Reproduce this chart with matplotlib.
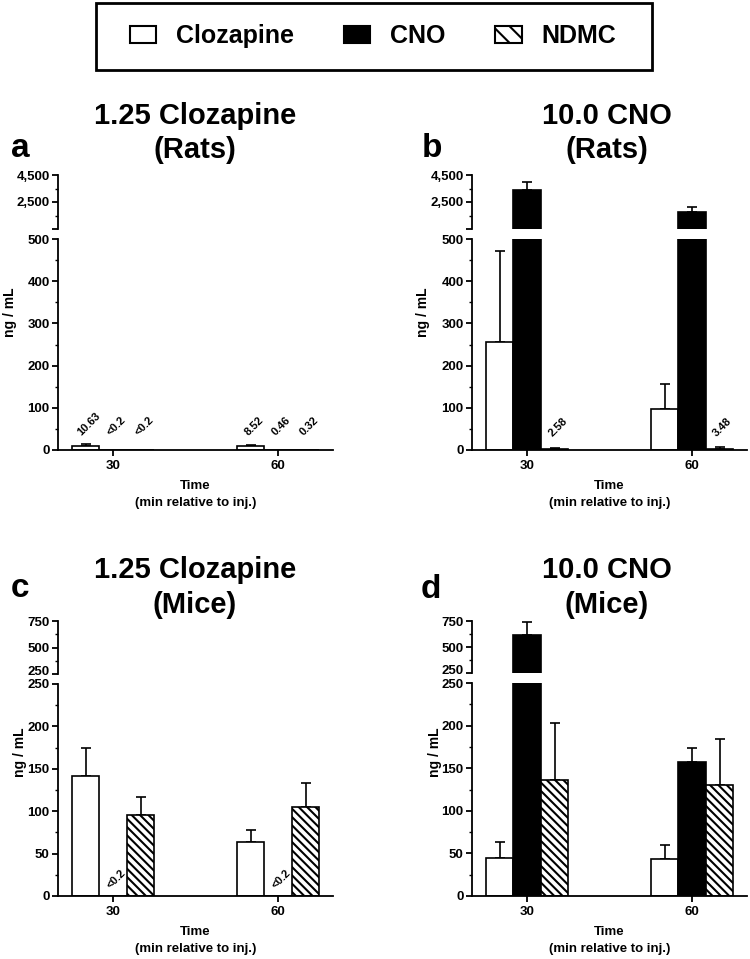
"""Plasma levels of clozapine, CNO and NDMC after injection (rats / mice)"""
import matplotlib
matplotlib.use('Agg')
import matplotlib.pyplot as plt
import matplotlib.transforms as mtransforms
import numpy as np
from matplotlib.patches import Patch, Rectangle
from matplotlib.ticker import MultipleLocator, FixedLocator

plt.rcParams['font.family'] = ['Liberation Sans', 'DejaVu Sans']
plt.rcParams['font.weight'] = 'bold'
plt.rcParams['axes.labelweight'] = 'bold'
plt.rcParams['axes.linewidth'] = 1.3
plt.rcParams['hatch.linewidth'] = 1.5

times = ['30', '60']
drugs = ['Clozapine', 'CNO', 'NDMC']

# a: 1.25 Clozapine (Rats)
a_clz, a_clz_err = [10.63, 8.52], [3.0, 3.0]
a_cno, a_cno_err = [0.0, 0.46], [0.0, 0.0]
a_ndmc, a_ndmc_err = [0.0, 0.32], [0.0, 0.0]
a_notes = [['10.63', '<0.2', '<0.2'], ['8.52', '0.46', '0.32']]

# b: 10.0 CNO (Rats)
b_clz, b_clz_err = [255, 96], [217, 60]
b_cno, b_cno_err = [3390, 1780], [615, 370]
b_ndmc, b_ndmc_err = [2.58, 3.48], [3.0, 3.0]
b_notes = [['', '', '2.58'], ['', '', '3.48']]

# c: 1.25 Clozapine (Mice)
c_clz, c_clz_err = [142, 64], [33, 14]
c_cno, c_cno_err = [0.0, 0.0], [0.0, 0.0]
c_ndmc, c_ndmc_err = [96, 105], [21, 28]
c_notes = [['', '<0.2', ''], ['', '<0.2', '']]

# d: 10.0 CNO (Mice)
d_clz, d_clz_err = [45, 43.5], [18, 16.5]
d_cno, d_cno_err = [620, 157], [124, 17]
d_ndmc, d_ndmc_err = [136, 130], [67, 54]
d_notes = [['', '', ''], ['', '', '']]

# Bar styles
styles = [
    {'facecolor': 'white', 'edgecolor': 'black'},
    {'facecolor': 'black', 'edgecolor': 'black'},
    {'facecolor': 'white', 'edgecolor': 'black', 'hatch': '\\\\\\\\'},
]

W, H = 750, 959


def fx(px):
    return px / W


def fy(py):
    return 1 - py / H


def nudge(label, dy_pt):
    """Shift a tick label up/down by a few points"""
    off = mtransforms.ScaledTranslation(0, dy_pt / 72, fig.dpi_scale_trans)
    label.set_transform(label.get_transform() + off)


def draw_panel(fig, left, top_px, brk_px, low_top_px, bottom_px, means, errs, notes,
               lo_max, lo_step, hi_lim, hi_ticks, hi_labels, note_y):
    ax_hi = fig.add_axes([fx(left), fy(brk_px), fx(275), (brk_px - top_px) / H])
    ax_lo = fig.add_axes([fx(left), fy(bottom_px), fx(275), (bottom_px - low_top_px) / H])

    x = np.arange(len(times))
    w = 1 / 6
    for j in range(len(drugs)):
        pos = x + (j - 1) * w
        m = np.array(means[j], dtype=float)
        e = np.array(errs[j], dtype=float)
        for ax, inside in ((ax_hi, m + e > lo_max), (ax_lo, m < lo_max)):
            ax.bar(pos, m, w, linewidth=1.2, zorder=2, **styles[j])
            keep = (e > 0) & inside
            if keep.any():
                ax.errorbar(pos[keep], m[keep], yerr=[np.zeros(keep.sum()), e[keep]],
                            fmt='none', ecolor='black', elinewidth=1.2,
                            capsize=3.5, capthick=1.2, zorder=1)
        for i in range(len(times)):
            if notes[i][j]:
                ax_lo.text(pos[i] + 0.02, note_y, notes[i][j], rotation=45,
                           ha='center', va='bottom', fontsize=8)

    for ax in (ax_hi, ax_lo):
        ax.set_xlim(-1 / 3, 4 / 3)
        ax.spines['top'].set_visible(False)
        ax.spines['right'].set_visible(False)
        ax.tick_params(axis='y', which='major', length=4, width=1.3, labelsize=9.5, pad=2)
        ax.tick_params(axis='y', which='minor', length=2.5, width=1.0)

    ax_hi.spines['bottom'].set_visible(False)
    ax_hi.set_xticks([])
    ax_hi.set_ylim(*hi_lim)
    ax_hi.yaxis.set_major_locator(FixedLocator(hi_ticks))
    ax_hi.set_yticklabels(hi_labels)
    ax_hi.yaxis.set_minor_locator(FixedLocator(
        [(a + b) / 2 for a, b in zip(hi_ticks[:-1], hi_ticks[1:])]))

    ax_lo.set_ylim(0, lo_max)
    ax_lo.yaxis.set_major_locator(MultipleLocator(lo_step))
    ax_lo.yaxis.set_minor_locator(MultipleLocator(lo_step / 2))
    ax_lo.set_xticks(x)
    ax_lo.set_xticklabels(times)
    ax_lo.tick_params(axis='x', length=4, width=1.3, labelsize=9.5, pad=3)
    ax_lo.set_xlabel('Time\n(min relative to inj.)', fontsize=9.5, labelpad=6,
                     linespacing=1.55)

    # the two labels at the axis break sit almost on top of each other
    if hi_labels[0]:
        nudge(ax_hi.get_yticklabels()[0], 2.5)
        ticks = ax_lo.get_yticklabels()
        nudge(ticks[-1], -1.5)
    return ax_hi, ax_lo


fig = plt.figure(figsize=(7.5, 9.59), dpi=100)

draw_panel(fig, 58, 175, 229, 239, 450,
           [a_clz, a_cno, a_ndmc], [a_clz_err, a_cno_err, a_ndmc_err], a_notes,
           500, 100, (500, 4500), [500, 2500, 4500], ['', '2,500', '4,500'], 30)
draw_panel(fig, 472, 175, 229, 239, 450,
           [b_clz, b_cno, b_ndmc], [b_clz_err, b_cno_err, b_ndmc_err], b_notes,
           500, 100, (500, 4500), [500, 2500, 4500], ['', '2,500', '4,500'], 28)
draw_panel(fig, 58, 621, 674, 684, 896,
           [c_clz, c_cno, c_ndmc], [c_clz_err, c_cno_err, c_ndmc_err], c_notes,
           250, 50, (250, 750), [250, 500, 750], ['250', '500', '750'], 6)
draw_panel(fig, 472, 621, 673, 683, 896,
           [d_clz, d_cno, d_ndmc], [d_clz_err, d_cno_err, d_ndmc_err], d_notes,
           250, 50, (250, 750), [250, 500, 750], ['250', '500', '750'], 6)

# Titles and panel letters
titles = [('1.25 Clozapine', '(Rats)', 195, 124, 158),
          ('10.0 CNO', '(Rats)', 607, 124, 158),
          ('1.25 Clozapine', '(Mice)', 195, 578, 613),
          ('10.0 CNO', '(Mice)', 607, 578, 613)]
for l1, l2, cx, y1, y2 in titles:
    fig.text(fx(cx), fy(y1), l1, ha='center', va='baseline', fontsize=21)
    fig.text(fx(cx), fy(y2), l2, ha='center', va='baseline', fontsize=21)

for letter, lx, ly in [('a', 11, 157), ('b', 422, 157), ('c', 11, 597), ('d', 421, 598)]:
    fig.text(fx(lx), fy(ly), letter, ha='left', va='baseline', fontsize=24)

# y labels
for yx, yy in [(10, 312), (423, 312), (20, 752), (435, 752)]:
    fig.text(fx(yx), fy(yy), 'ng / mL', rotation=90, ha='center', va='center', fontsize=10)

# Legend
handles = [Patch(label=name, linewidth=1.5, **{k: v for k, v in s.items() if k != 'hatch'},
                 hatch='\\\\' if 'hatch' in s else None)
           for name, s in zip(drugs, styles)]
fig.legend(handles=handles, loc='center', bbox_to_anchor=(fx(373), fy(36)), ncol=3,
           frameon=False, fontsize=18, handlelength=1.05, handleheight=0.65,
           handletextpad=0.8, columnspacing=2.0)
fig.patches.append(Rectangle((fx(96), fy(70)), fx(556), 67 / H, transform=fig.transFigure,
                             fill=False, linewidth=2, edgecolor='black'))

fig.savefig('out.png', dpi=100)
